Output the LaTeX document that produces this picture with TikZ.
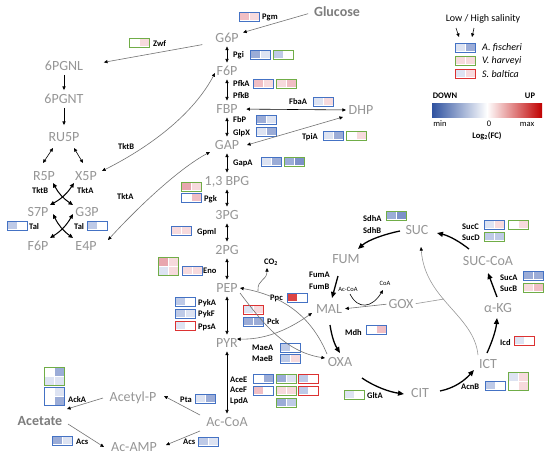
\documentclass[tikz,border=0pt]{standalone}
\usepackage{fontspec}
\setmainfont{Carlito}
\usetikzlibrary{arrows.meta}
\definecolor{metc}{RGB}{150,150,150}
\definecolor{metd}{RGB}{125,125,125}
\definecolor{bb}{RGB}{68,114,196}
\definecolor{gb}{RGB}{112,173,71}
\definecolor{rb}{RGB}{220,50,50}
\definecolor{B1}{RGB}{221,227,242}
\definecolor{B2}{RGB}{190,202,231}
\definecolor{B3}{RGB}{155,172,215}
\definecolor{B4}{RGB}{125,145,201}
\definecolor{P1}{RGB}{247,218,221}
\definecolor{P2}{RGB}{240,190,196}
\definecolor{P3}{RGB}{232,166,174}
\definecolor{R1}{RGB}{220,68,68}
\definecolor{W}{RGB}{255,255,255}
\definecolor{dblue}{RGB}{47,82,160}
\definecolor{dred}{RGB}{192,0,0}
\definecolor{lnc}{RGB}{115,115,115}
\newcommand\hmb[5]{%
  \fill[#4] (#1+1.4,#2+1.4) rectangle (#1+10.3,#2+8.1);
  \fill[#5] (#1+10.7,#2+1.4) rectangle (#1+19.6,#2+8.1);
  \draw[#3,line width=0.9pt] (#1+0.45,#2+0.45) rectangle (#1+20.55,#2+9.05);}
\newcommand\hmq[7]{%
  \fill[#4] (#1+1.4,#2+1.4) rectangle (#1+10.3,#2+9.2);
  \fill[#5] (#1+10.7,#2+1.4) rectangle (#1+19.6,#2+9.2);
  \fill[#6] (#1+1.4,#2+9.8) rectangle (#1+10.3,#2+17.6);
  \fill[#7] (#1+10.7,#2+9.8) rectangle (#1+19.6,#2+17.6);
  \draw[#3,line width=0.9pt] (#1+0.45,#2+0.45) rectangle (#1+20.55,#2+18.55);}
\tikzset{
  met/.style={text=metc, font=\fontsize{14}{14}\selectfont, inner sep=0pt, text height=9.5pt, text depth=0pt},
  metb/.style={met, text=metd, font=\bfseries\fontsize{14}{14}\selectfont},
  gene/.style={font=\bfseries\fontsize{8.5}{9}\selectfont, inner sep=0pt, anchor=west, text height=6pt, text depth=0pt},
  small/.style={font=\fontsize{6.5}{7}\selectfont, inner sep=0pt},
  lgt/.style={font=\fontsize{10}{11}\selectfont, inner sep=0pt},
  lgi/.style={font=\itshape\fontsize{10}{11}\selectfont, inner sep=0pt, anchor=west},
  lgb/.style={font=\bfseries\fontsize{8.5}{9}\selectfont, inner sep=0pt},
  ln/.style={draw=lnc, line width=0.6pt},
  bl/.style={draw=black, line width=0.6pt},
  gl/.style={draw=black!40, line width=0.6pt},
  va/.style={<->, draw=black, line width=0.6pt, shorten <=3.5pt, shorten >=3.5pt},
  thk/.style={draw=black, line width=1.3pt, -{Triangle[length=6pt,width=5pt]}},
  xa/.style={draw=black, line width=1pt, {Triangle[length=4.5pt,width=4pt]}-{Triangle[length=4.5pt,width=4pt]}},
}
\begin{document}
\begin{tikzpicture}[x=1pt,y=-1pt,>={Triangle[length=3.6pt,width=3.2pt,color=black]}]
\useasboundingbox (0,0) rectangle (550,459);
\fill[white] (0,0) rectangle (550,459);
% ---------------- metabolites
\node[metb] (Glc) at (337,12) {Glucose};
\node[met] (G6P) at (227,38) {G6P};
\node[met] (F6P) at (227,71) {F6P};
\node[met] (FBP) at (227,109) {FBP};
\node[met] (GAP) at (227,145) {GAP};
\node[met] (BPG) at (227,181) {1,3 BPG};
\node[met] (PGc) at (227,215) {3PG};
\node[met] (PGb) at (227,250) {2PG};
\node[met] (PEP) at (227,288) {PEP};
\node[met] (PYR) at (227,343) {PYR};
\node[met] (AcCoA) at (227,422) {Ac-CoA};
\node[met] (AcP) at (133,397) {Acetyl-P};
\node[metb] (Ace) at (40,421) {Acetate};
\node[met] (AcAMP) at (134,447) {Ac-AMP};
\node[met] (PGNL) at (64,66) {6PGNL};
\node[met] (PGNT) at (64,99) {6PGNT};
\node[met] (RU5P) at (64,137) {RU5P};
\node[met] (R5P) at (44,176) {R5P};
\node[met] (X5P) at (86,176) {X5P};
\node[met] (S7P) at (38,212) {S7P};
\node[met] (G3P) at (87,212) {G3P};
\node[met] (F6Pb) at (38,246) {F6P};
\node[met] (E4P) at (86,246) {E4P};
\node[met] (DHP) at (361,110) {DHP};
\node[met] (FUM) at (346,259) {FUM};
\node[met] (MAL) at (329,309) {MAL};
\node[met] (OXA) at (340,362) {OXA};
\node[met] (GOX) at (401,304) {GOX};
\node[met] (SUC) at (417,230) {SUC};
\node[met] (SUCCoA) at (488,261) {SUC-CoA};
\node[met] (AKG) at (498,308) {α-KG};
\node[met] (ICT) at (488,364) {ICT};
\node[met] (CIT) at (420,393) {CIT};
\node[gene] (CO2) at (264,261) {CO\textsubscript{2}};
\node[small] (sAcCoA) at (348,289) {Ac-CoA};
\node[small] (sCoA) at (385,283) {CoA};
% ---------------- gene labels
\node[gene] (lPgm) at (262,16) {Pgm};
\node[gene] (lZwf) at (153,43) {Zwf};
\node[gene] (lPgi) at (233,54) {Pgi};
\node[gene] (lPfkA) at (233,83) {PfkA};
\node[gene] (lPfkB) at (233,95) {PfkB};
\node[gene] (lFbaA) at (289,101) {FbaA};
\node[gene] (lFbP) at (233,119) {FbP};
\node[gene] (lGlpX) at (233,132) {GlpX};
\node[gene] (lTpiA) at (302,136) {TpiA};
\node[gene] (lGapA) at (233,162) {GapA};
\node[gene] (lPgk) at (204,198) {Pgk};
\node[gene] (lGpml) at (197,231) {Gpml};
\node[gene] (lEno) at (203,270) {Eno};
\node[gene] (lPykA) at (198,302) {PykA};
\node[gene] (lPykF) at (198,313) {PykF};
\node[gene] (lPpsA) at (198,326) {PpsA};
\node[gene] (lPck) at (267,321) {Pck};
\node[gene] (lPpc) at (270,297) {Ppc};
\node[gene] (lMaeA) at (252,347) {MaeA};
\node[gene] (lMaeB) at (252,358) {MaeB};
\node[gene] (lMdh) at (345,332) {Mdh};
\node[gene] (lFumA) at (309,274) {FumA};
\node[gene] (lFumB) at (309,286) {FumB};
\node[gene] (lSdhA) at (363,218) {SdhA};
\node[gene] (lSdhB) at (363,230) {SdhB};
\node[gene] (lSucC) at (462,226) {SucC};
\node[gene] (lSucD) at (462,237) {SucD};
\node[gene] (lSucA) at (500,277) {SucA};
\node[gene] (lSucB) at (500,288) {SucB};
\node[gene] (lIcd) at (500,342) {Icd};
\node[gene] (lAcnB) at (461,386) {AcnB};
\node[gene] (lGltA) at (367,395) {GltA};
\node[gene] (lAceE) at (230,379) {AceE};
\node[gene] (lAceF) at (230,389) {AceF};
\node[gene] (lLpdA) at (230,400) {LpdA};
\node[gene] (lPta) at (180,399) {Pta};
\node[gene] (lAckA) at (68,399) {AckA};
\node[gene] (lAcsa) at (76,441) {Acs};
\node[gene] (lAcsb) at (183,441) {Acs};
\node[gene] (lTktB) at (118,146) {TktB};
\node[gene] (lTktBx) at (32,190) {TktB};
\node[gene] (lTktAx) at (77,190) {TktA};
\node[gene] (lTktA) at (117,196) {TktA};
\node[gene] (lTala) at (29,226) {Tal};
\node[gene] (lTalb) at (74,226) {Tal};
% ---------------- heat boxes
\hmb{239}{12}{bb}{P2}{P1}
\hmb{129}{38}{gb}{W}{P1}
\hmb{250}{50}{bb}{B3}{B1}
\hmb{273}{50}{gb}{B2}{W}
\hmb{253}{79}{bb}{P2}{P1}
\hmb{276}{79}{gb}{P1}{P2}
\hmb{313}{97}{bb}{B1}{P1}
\hmb{256}{115}{bb}{B3}{B1}
\hmb{256}{127}{bb}{B1}{B3}
\hmb{323}{131}{bb}{B1}{B3}
\hmb{346}{131}{gb}{W}{P1}
\hmb{261}{157}{bb}{B1}{B3}
\hmb{284}{157}{gb}{B3}{B4}
\hmb{181}{182}{gb}{P3}{P1}
\hmb{181}{193}{bb}{W}{P2}
\hmb{171}{226}{bb}{P1}{P1}
\hmq{158}{257}{gb}{P3}{P1}{B1}{P1}
\hmb{182}{266}{bb}{P1}{P1}
\hmb{175}{297}{bb}{B2}{W}
\hmb{175}{309}{bb}{B2}{B1}
\hmb{175}{321}{rb}{B1}{W}
\hmb{243}{305}{rb}{B1}{P1}
\hmb{243}{317}{bb}{B3}{B3}
\hmb{287}{293}{bb}{R1}{W}
\hmb{280}{343}{bb}{B2}{W}
\hmb{280}{354}{bb}{B2}{P1}
\hmb{366}{325}{bb}{W}{P2}
\hmb{386}{211}{gb}{B3}{B4}
\hmb{484}{220}{bb}{B1}{P1}
\hmb{508}{220}{gb}{W}{P1}
\hmb{484}{232}{gb}{B2}{B2}
\hmb{523}{271}{bb}{B3}{B3}
\hmb{523}{283}{gb}{P1}{P2}
\hmb{514}{336}{rb}{B1}{W}
\hmb{485}{381}{bb}{B2}{W}
\hmq{508}{372}{gb}{B1}{P1}{W}{P1}
\hmb{344}{390}{gb}{B1}{W}
\hmb{253}{374}{bb}{W}{B3}
\hmb{276}{374}{gb}{B3}{B1}
\hmb{298}{374}{rb}{B2}{W}
\hmb{253}{386}{bb}{P2}{W}
\hmb{276}{386}{gb}{P1}{P1}
\hmb{298}{386}{rb}{B2}{W}
\hmb{276}{398}{gb}{B3}{B2}
\hmb{195}{394}{bb}{B1}{B3}
\hmq{44}{387}{bb}{W}{B1}{W}{B3}
\hmq{44}{367}{gb}{W}{B3}{B1}{B1}
\hmb{52}{436}{bb}{B3}{B1}
\hmb{198}{437}{bb}{B2}{B1}
\hmb{7}{221}{bb}{B2}{W}
\hmb{87}{221}{bb}{B2}{W}
% ---------------- glycolysis connectors
\draw[va] (G6P) -- (F6P);
\draw[va] (F6P) -- (FBP);
\draw[va] (FBP) -- (GAP);
\draw[va] (GAP) -- (BPG);
\draw[va] (BPG) -- (PGc);
\draw[va] (PGc) -- (PGb);
\draw[va] (PGb) -- (PEP);
\draw[va] (PEP) -- (PYR);
\draw[va] (PYR) -- (AcCoA);
\draw[ln,->,shorten <=6pt,shorten >=4.5pt] (Glc.west) -- (G6P.20);
\draw[ln,->,shorten <=13pt,shorten >=21pt] (G6P.200) -- (PGNL.east);
\draw[bl,->,shorten <=4pt,shorten >=4pt] (PGNL) -- (PGNT);
\draw[bl,->,shorten <=4pt,shorten >=7pt] (PGNT) -- (RU5P);
\draw[bl,<->,shorten <=8.5pt,shorten >=2.5pt] (FBP.east) -- (DHP.west);
\coordinate (gd1) at (247,145); \coordinate (gd2) at (343,117);
\draw[ln,<->] (gd1) -- (gd2);
% pentose phosphate
\coordinate (k1) at (53,148); \coordinate (k2) at (43,163);
\coordinate (k3) at (74,148); \coordinate (k4) at (83,163);
\draw[bl,<->] (k1) -- (k2);
\draw[bl,<->] (k3) -- (k4);
\coordinate (xa1) at (53,183); \coordinate (xa2) at (73,205);
\coordinate (xa3) at (74,183); \coordinate (xa4) at (50,205);
\draw[xa] (xa1) to[bend right=14] (xa2);
\draw[xa] (xa3) to[bend left=14] (xa4);
\coordinate (xb1) at (53,214); \coordinate (xb2) at (73,238);
\coordinate (xb3) at (73,214); \coordinate (xb4) at (50,238);
\draw[xa] (xb1) to[bend right=14] (xb2);
\draw[xa] (xb3) to[bend left=14] (xb4);
\coordinate (tb1) at (102,171); \coordinate (tb2) at (215,73);
\draw[ln,<->] (tb1) .. controls (140,152) and (190,120) .. (tb2);
\coordinate (ta1) at (108,240); \coordinate (ta2) at (210,152);
\draw[ln,<->] (ta1) .. controls (140,205) and (180,168) .. (ta2);
% PEP / PYR / OXA / MAL
\coordinate (pk1) at (327,354); \coordinate (pk2) at (240,288);
\draw[ln,->] (pk1) .. controls (312,318) and (285,296) .. (pk2);
\coordinate (co1) at (258,291); \coordinate (co2) at (267,268);
\draw[ln,->] (co1) .. controls (257,279) and (267,281) .. (co2);
\coordinate (pp1) at (240,293); \coordinate (pp2) at (325,358);
\draw[ln,->] (pp1) .. controls (262,322) and (285,352) .. (pp2);
\coordinate (me1) at (237,339); \coordinate (me2) at (312,313);
\draw[ln,<->] (me1) .. controls (270,340) and (295,325) .. (me2);
% TCA
\coordinate (t1a) at (338,276); \coordinate (t1b) at (332,298);
\draw[thk] (t1a) -- (t1b);
\coordinate (t2a) at (330,325); \coordinate (t2b) at (340,353);
\draw[thk] (t2a) .. controls (332,338) and (335,345) .. (t2b);
\coordinate (t3a) at (362,378); \coordinate (t3b) at (404,394);
\draw[thk] (t3a) .. controls (375,387) and (390,392) .. (t3b);
\coordinate (t4a) at (440,391); \coordinate (t4b) at (474,370);
\draw[thk] (t4a) .. controls (455,388) and (465,380) .. (t4b);
\coordinate (t5a) at (487,353); \coordinate (t5b) at (497,318);
\draw[thk] (t5a) .. controls (492,342) and (496,330) .. (t5b);
\coordinate (t6a) at (497,297); \coordinate (t6b) at (488,273);
\draw[thk] (t6a) -- (t6b);
\coordinate (t7a) at (469,249); \coordinate (t7b) at (437,233);
\draw[thk] (t7a) .. controls (460,242) and (450,236) .. (t7b);
\coordinate (t8a) at (400,231); \coordinate (t8b) at (358,249);
\draw[thk] (t8a) .. controls (385,234) and (368,240) .. (t8b);
% glyoxylate
\draw[ln,->,shorten <=2pt,shorten >=3pt] (GOX.west) -- (MAL.east);
\coordinate (ca1) at (350,294); \coordinate (ca2) at (383,290);
\draw[bl,->] (ca1) .. controls (358,310) and (372,308) .. (ca2);
\coordinate (ic1) at (478,355); \coordinate (ic2) at (421,247);
\draw[gl,->] (ic1) .. controls (474,315) and (425,300) .. (ic2);
\coordinate (gj) at (444,299);
\draw[gl,shorten <=2pt] (GOX.east) -- (gj);
% acetate
\coordinate (e1a) at (200,415); \coordinate (e1b) at (164,396);
\draw[ln,->] (e1a) -- (e1b);
\coordinate (e2a) at (103,398); \coordinate (e2b) at (67,409);
\draw[ln,->] (e2a) -- (e2b);
\coordinate (e3a) at (68,424); \coordinate (e3b) at (104,447);
\draw[ln,->] (e3a) -- (e3b);
\coordinate (e4a) at (200,431); \coordinate (e4b) at (166,445);
\draw[ln,->] (e4a) -- (e4b);
% ---------------- legend
\node[lgt] (lh) at (483,19) {Low / High salinity};
\coordinate (la1) at (456,28); \coordinate (la2) at (459,37);
\coordinate (la3) at (474,28); \coordinate (la4) at (472,37);
\draw[bl,->] (la1) -- (la2);
\draw[bl,->] (la3) -- (la4);
\hmb{455}{43}{bb}{B1}{B3}
\hmb{455}{56}{gb}{P1}{P1}
\hmb{455}{69}{rb}{B1}{P1}
\node[lgi] (afi) at (482,48) {A. fischeri};
\node[lgi] (vha) at (482,61) {V. harveyi};
\node[lgi] (sba) at (482,74) {S. baltica};
\node[lgb] (down) at (445,96) {DOWN};
\node[lgb] (up) at (530,96) {UP};
\shade[left color=dblue, right color=dred, middle color=white] (432,103) rectangle (542,117);
\node[lgb,font=\fontsize{8.5}{9}\selectfont] (mn) at (440,124) {min};
\node[lgb,font=\fontsize{8.5}{9}\selectfont] (zr) at (489,124) {0};
\node[lgb,font=\fontsize{8.5}{9}\selectfont] (mx) at (527,124) {max};
\node[lgb] (lfc) at (487,136) {Log\textsubscript{2}(FC)};
\end{tikzpicture}
\end{document}
